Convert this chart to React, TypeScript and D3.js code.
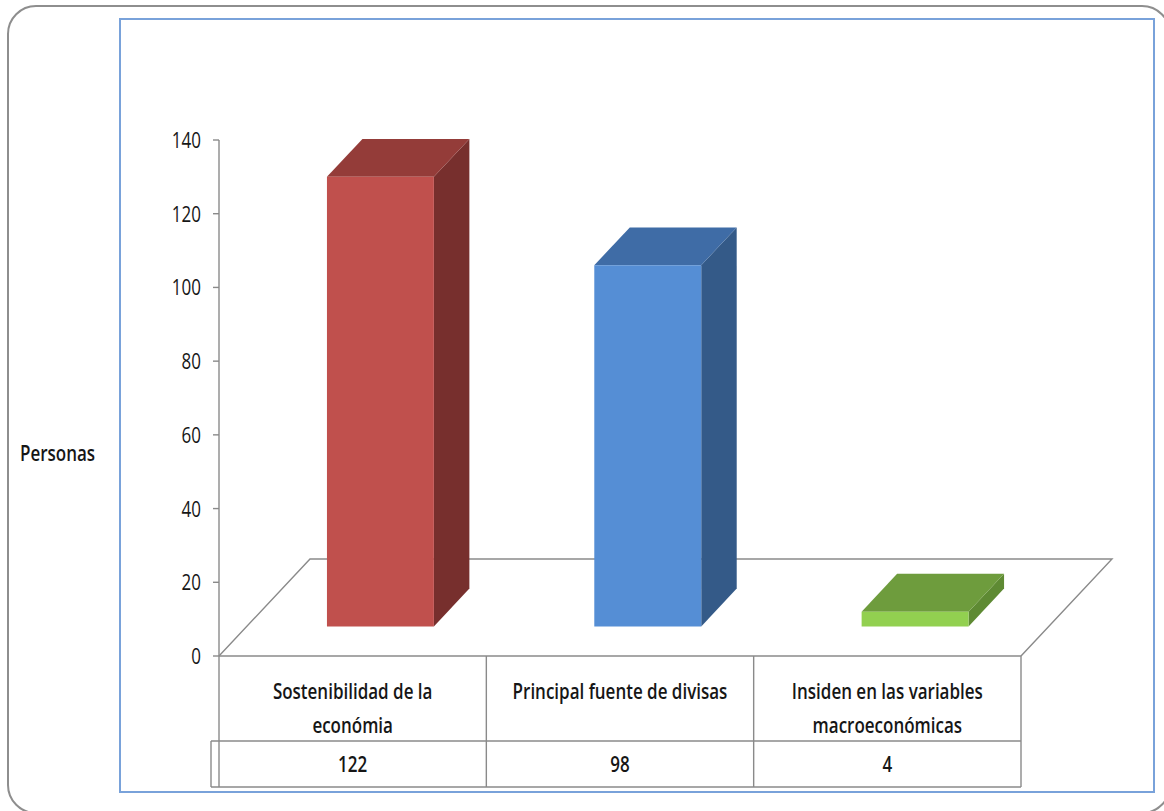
import React from "react";
import * as d3 from "d3";

// Survey results: people per answer
const categories: string[][] = [
  ["Sostenibilidad de la", "económia"],
  ["Principal fuente de divisas"],
  ["Insiden en las variables", "macroeconómicas"],
];
const values: number[] = [122, 98, 4];
const ticks: number[] = [0, 20, 40, 60, 80, 100, 120, 140];
const axisTitle = "Personas";

type Palette = { front: string; top: string; side: string };
const palettes: Palette[] = [
  { front: "#C0504D", top: "#943C39", side: "#772F2D" },
  { front: "#558ED5", top: "#3F6CA6", side: "#345A88" },
  { front: "#92D050", top: "#6E9C3D", side: "#5E8A33" },
];

const W = 1164;
const H = 811;

// plot frame
const x0 = 219;
const x1 = 1021;
const yBase = 656;
const yTop = 140;
// depth vector of the floor (full depth)
const depth = { dx: 91, dy: -97 };
const barFrontZ = 0.305;
const barDepthZ = 0.39;

const tableRow1 = 741;
const tableRow2 = 787;
const legendColX = 211;

const textFont = "'Open Sans', 'DejaVu Sans', sans-serif";
const stretch = 1.32;
const ink = "#161616";
const gridGray = "#8a8a8a";

function STxt(props: {
  x: number;
  y: number;
  anchor?: "start" | "middle" | "end";
  size: number;
  weight?: number;
  children: React.ReactNode;
}) {
  const { x, y, anchor = "middle", size, weight = 600, children } = props;
  return (
    <text
      transform={`translate(${x},${y}) scale(1,${stretch})`}
      textAnchor={anchor}
      fontFamily={textFont}
      fontSize={size}
      fontWeight={weight}
      fill={ink}
    >
      {children}
    </text>
  );
}

export default function App() {
  const y = d3.scaleLinear().domain([0, 140]).range([yBase, yTop]);
  const x = d3
    .scaleBand<number>()
    .domain(d3.range(categories.length))
    .range([x0, x1])
    .paddingInner(0)
    .paddingOuter(0);
  const band = x.bandwidth();
  const barW = band * 0.4;

  const fz = { dx: depth.dx * barFrontZ, dy: depth.dy * barFrontZ };
  const bz = { dx: depth.dx * barDepthZ, dy: depth.dy * barDepthZ };

  const floor = d3.path();
  floor.moveTo(x0, yBase);
  floor.lineTo(x0 + depth.dx, yBase + depth.dy);
  floor.lineTo(x1 + depth.dx, yBase + depth.dy);
  floor.lineTo(x1, yBase);

  return (
    <svg
      width={W}
      height={H}
      style={{ position: "absolute", left: 0, top: 0, background: "#fff" }}
    >
      {/* outer chart area */}
      <rect
        x={8}
        y={6}
        width={1162}
        height={807}
        rx={28}
        ry={28}
        fill="#fff"
        stroke="#8e8e8e"
        strokeWidth={2}
      />
      {/* plot area */}
      <rect
        x={120}
        y={19}
        width={1034}
        height={773}
        fill="#fff"
        stroke="#79a2da"
        strokeWidth={2}
      />

      {/* floor */}
      <path d={floor.toString()} fill="#fff" stroke={gridGray} strokeWidth={1.4} />

      {/* value axis */}
      <line x1={x0} x2={x0} y1={y(140)} y2={yBase} stroke={gridGray} strokeWidth={1.4} />
      {ticks.map((t) => (
        <g key={t}>
          <line x1={x0 - 6} x2={x0} y1={y(t)} y2={y(t)} stroke={gridGray} strokeWidth={1.4} />
          <STxt x={201} y={y(t) + 8} anchor="end" size={17} weight={400}>
            {t}
          </STxt>
        </g>
      ))}
      <STxt x={20} y={461} anchor="start" size={17} weight={600}>
        {axisTitle}
      </STxt>

      {/* 3D bars */}
      {values.map((v, i) => {
        const p = palettes[i];
        const left = (x(i) as number) + (band - barW) / 2 + fz.dx;
        const right = left + barW;
        const bottom = y(0) + fz.dy;
        const top = y(v) + fz.dy;
        const front = `M${left},${bottom}L${left},${top}L${right},${top}L${right},${bottom}Z`;
        const topFace = `M${left},${top}L${left + bz.dx},${top + bz.dy}L${right + bz.dx},${top + bz.dy}L${right},${top}Z`;
        const side = `M${right},${bottom}L${right},${top}L${right + bz.dx},${top + bz.dy}L${right + bz.dx},${bottom + bz.dy}Z`;
        return (
          <g key={i}>
            <path d={side} fill={p.side} />
            <path d={topFace} fill={p.top} />
            <path d={front} fill={p.front} />
          </g>
        );
      })}

      {/* data table */}
      <g stroke={gridGray} strokeWidth={1.4} fill="none">
        <line x1={x0} x2={x1} y1={yBase} y2={yBase} />
        <line x1={legendColX} x2={x1} y1={tableRow1} y2={tableRow1} />
        <line x1={legendColX} x2={x1} y1={tableRow2} y2={tableRow2} />
        <line x1={legendColX} x2={legendColX} y1={tableRow1} y2={tableRow2} />
        {d3.range(categories.length + 1).map((i) => {
          const cx = i < categories.length ? (x(i) as number) : x1;
          return <line key={i} x1={cx} x2={cx} y1={yBase} y2={tableRow2} />;
        })}
      </g>
      {categories.map((lines, i) => {
        const cx = (x(i) as number) + band / 2;
        return (
          <g key={i}>
            {lines.map((ln, j) => (
              <STxt key={j} x={cx} y={699 + j * 34} size={17}>
                {ln}
              </STxt>
            ))}
            <STxt x={cx} y={772} size={17}>
              {values[i]}
            </STxt>
          </g>
        );
      })}
    </svg>
  );
}
